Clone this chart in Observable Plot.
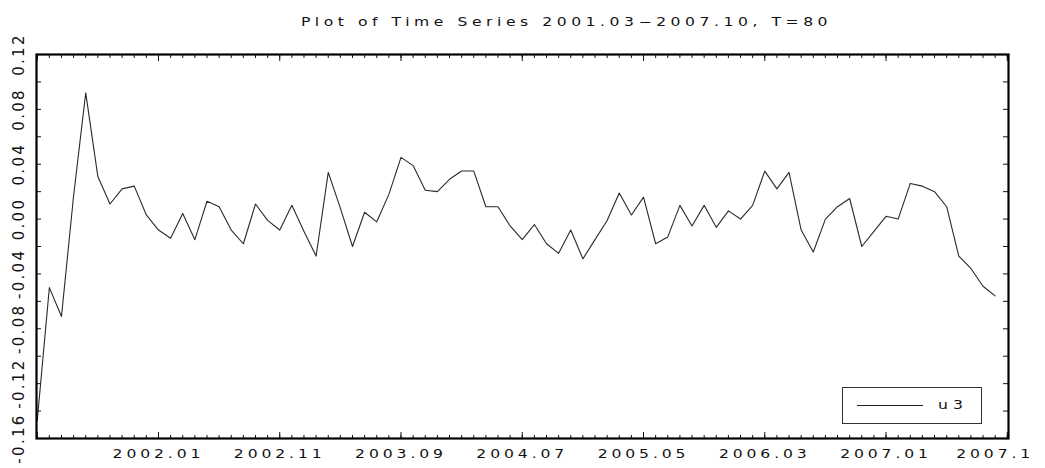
<!DOCTYPE html>
<html>
<head>
<meta charset="utf-8">
<script src="https://cdn.jsdelivr.net/npm/d3@7"></script>
<script src="https://cdn.jsdelivr.net/npm/@observablehq/plot@0.6"></script>
<style>
  html, body { margin: 0; padding: 0; background: #fff; }
  #wrap { position: relative; width: 1045px; height: 468px; overflow: hidden; }
  #legend { position: absolute; left: 842px; top: 387px; width: 138px; height: 35px;
            border: 1px solid #333; background: #fff; font-family: "DejaVu Sans", sans-serif; }
  #legend .ln { position: absolute; left: 14px; top: 17px; width: 66px; height: 0; border-top: 1px solid #222; }
  #legend .tx { position: absolute; left: 95px; top: 9px; font-size: 12.5px; letter-spacing: 4px; color: #111;
                transform: scaleX(1.25); transform-origin: left center; }
</style>
</head>
<body>
<div id="wrap"></div>
<script>
// ---- data ----
const title = "Plot of Time Series 2001.03\u22122007.10, T=80";
const seriesName = "u3";
const u3 = [
  -0.147, -0.050, -0.071, 0.017, 0.092, 0.031, 0.011, 0.022, 0.024, 0.003,
  -0.008, -0.014, 0.004, -0.015, 0.013, 0.009, -0.008, -0.018, 0.011, -0.001,
  -0.008, 0.010, -0.009, -0.027, 0.034, 0.008, -0.020, 0.005, -0.002, 0.018,
  0.045, 0.039, 0.021, 0.020, 0.029, 0.035, 0.035, 0.009, 0.009, -0.005,
  -0.015, -0.004, -0.018, -0.025, -0.008, -0.029, -0.015, -0.001, 0.019, 0.003,
  0.016, -0.018, -0.013, 0.010, -0.005, 0.010, -0.006, 0.006, 0.000, 0.010,
  0.035, 0.022, 0.034, -0.008, -0.024, 0.000, 0.009, 0.015, -0.020, -0.009,
  0.002, 0.000, 0.026, 0.024, 0.020, 0.009, -0.027, -0.036, -0.049, -0.056
];
const xTickIndex = [10, 20, 30, 40, 50, 60, 70, 79];
const xTickLabels = ["2002.01", "2002.11", "2003.09", "2004.07", "2005.05", "2006.03", "2007.01", "2007.1"];
const yTickValues = [-0.16, -0.12, -0.08, -0.04, 0.00, 0.04, 0.08, 0.12];
const yTickLabels = ["-0.16", "-0.12", "-0.08", "-0.04", "0.00", "0.04", "0.08", "0.12"];

// ---- tick positions ----
const xMinor = d3.range(0, 81);
const xMajor = d3.range(0, 81, 10);
const yMinor = d3.range(-8, 7).map(k => +(k * 0.02).toFixed(2));

const rows = u3.map((v, i) => ({i, v}));
const font = "DejaVu Sans, sans-serif";

const chart = Plot.plot({
  width: 1045,
  height: 468,
  marginLeft: 36,
  marginRight: 37,
  marginTop: 54,
  marginBottom: 30,
  x: {domain: [-0.06, 80.1], axis: null},
  y: {domain: [-0.16, 0.12], axis: null},
  style: {fontFamily: font, background: "#fff", color: "#111"},
  marks: [
    Plot.axisX(xMinor, {anchor: "bottom", tickSize: -3, tickFormat: () => "", label: null, stroke: "#111"}),
    Plot.axisX(xMinor, {anchor: "top", tickSize: -3, tickFormat: () => "", label: null, stroke: "#111"}),
    Plot.axisX(xMajor, {anchor: "bottom", tickSize: -6, tickFormat: () => "", label: null, stroke: "#111"}),
    Plot.axisX(xMajor, {anchor: "top", tickSize: -6, tickFormat: () => "", label: null, stroke: "#111"}),
    Plot.axisY(yMinor, {anchor: "left", tickSize: -5, tickFormat: () => "", label: null, stroke: "#111"}),
    Plot.axisY(yMinor, {anchor: "right", tickSize: -6, tickFormat: () => "", label: null, stroke: "#111"}),
    Plot.line(rows, {x: "i", y: "v", stroke: "#2a2a2a", strokeWidth: 1.1}),
    Plot.frame({stroke: "#000", strokeWidth: 2.2}),
    Plot.text(xTickIndex, {x: d => d, frameAnchor: "bottom", dy: 16, text: (d, i) => xTickLabels[i],
      textAnchor: "middle", lineAnchor: "middle", fontSize: 12, fill: "#111"}),
    Plot.text(yTickValues, {y: d => d, frameAnchor: "left", dx: -17, rotate: -90, text: (d, i) => yTickLabels[i],
      textAnchor: "middle", lineAnchor: "middle", fontSize: 15, fill: "#111"}),
    Plot.text([title], {frameAnchor: "top", dy: -32, dx: 44, text: d => d,
      textAnchor: "middle", lineAnchor: "middle", fontSize: 12, fill: "#111"})
  ]
});

const wrap = document.getElementById("wrap");
wrap.appendChild(chart);

// mimic the wide plotter font: letter spacing plus a horizontal stretch
function stretch(t, k) {
  const x = +(t.getAttribute("x") || 0);
  const prev = t.getAttribute("transform") || "";
  t.setAttribute("transform", `${prev} translate(${x},0) scale(${k},1) translate(${-x},0)`.trim());
}
chart.querySelectorAll("text").forEach(t => {
  const s = t.textContent;
  if (xTickLabels.includes(s)) { t.style.letterSpacing = "3px"; stretch(t, 1.3); }
  else if (yTickLabels.includes(s)) t.style.letterSpacing = "2.3px";
  else if (s === title) { t.style.letterSpacing = "3.5px"; stretch(t, 1.3); }
});

const legend = document.createElement("div");
legend.id = "legend";
legend.innerHTML = '<div class="ln"></div><div class="tx"></div>';
legend.querySelector(".tx").textContent = seriesName;
wrap.appendChild(legend);
</script>
</body>
</html>
